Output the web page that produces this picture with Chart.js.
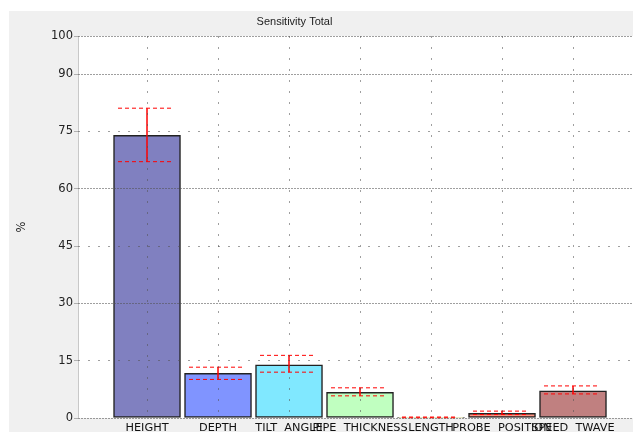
<!DOCTYPE html>
<html>
<head>
<meta charset="utf-8">
<script src="https://cdn.jsdelivr.net/npm/chart.js@4"></script>
<style>
  body { margin: 0; background: #ffffff; width: 633px; height: 432px; overflow: hidden; }
  #box { position: absolute; left: 9px; top: 11px; width: 624px; height: 421px; background: #f0f0f0; }
</style>
</head>
<body>
<div id="box"><canvas id="myChart"></canvas></div>
<script>
// chart data
var categories = ["HEIGHT", "DEPTH", "TILT  ANGLE", "PIPE  THICKNESS", "LENGTH", "PROBE  POSITION", "SPEED  TWAVE"];
var sensitivity = [74, 11.7, 13.9, 6.7, 0.15, 1.2, 7.1];
var errLow = [67.1, 10.1, 12.0, 5.8, 0.05, 0.9, 6.3];
var errHigh = [81.1, 13.3, 16.4, 7.9, 0.25, 1.8, 8.4];
var yTicks = [0, 15, 30, 45, 60, 75, 90, 100];
var barColors = ["#8080c0", "#8094ff", "#80e8ff", "#c0ffc0", "#ffffa0", "#ff9482", "#c08080"];

document.addEventListener("DOMContentLoaded", function () {
  var whiteArea = {
    id: "whiteArea",
    beforeDraw: function (chart) {
      var a = chart.chartArea;
      var c = chart.ctx;
      c.save();
      c.fillStyle = "#ffffff";
      c.fillRect(a.left, a.top, a.right - a.left, a.bottom - a.top);
      // left axis line
      c.strokeStyle = "#c8c8c8";
      c.lineWidth = 1;
      c.beginPath();
      c.moveTo(a.left + 0.5, a.top);
      c.lineTo(a.left + 0.5, a.bottom);
      c.stroke();
      c.restore();
    }
  };

  // red dashed caps + solid stem
  var errorBars = {
    id: "errorBars",
    afterDatasetsDraw: function (chart) {
      var ctx = chart.ctx;
      var xs = chart.scales.x, ys = chart.scales.y;
      ctx.save();
      ctx.strokeStyle = "#ff0000";
      for (var i = 0; i < categories.length; i++) {
        var cx = xs.getPixelForValue(i);
        var lo = ys.getPixelForValue(errLow[i]);
        var hi = ys.getPixelForValue(errHigh[i]);
        ctx.lineWidth = 1.5;
        ctx.setLineDash([]);
        ctx.beginPath();
        ctx.moveTo(cx, lo);
        ctx.lineTo(cx, hi);
        ctx.stroke();
        ctx.lineWidth = 1;
        ctx.setLineDash([4, 3]);
        ctx.beginPath();
        ctx.moveTo(cx - 29, hi); ctx.lineTo(cx + 27, hi);
        ctx.moveTo(cx - 29, lo); ctx.lineTo(cx + 27, lo);
        ctx.stroke();
      }
      ctx.restore();
    }
  };

  var titleText = {
    id: "titleText",
    afterDraw: function (chart) {
      var ctx = chart.ctx;
      ctx.save();
      ctx.fillStyle = "#222";
      ctx.font = "11px 'Liberation Sans', sans-serif";
      ctx.textAlign = "center";
      ctx.textBaseline = "middle";
      ctx.fillText("Sensitivity Total", 285.5, 11);
      ctx.restore();
    }
  };

  var ctx = document.getElementById("myChart").getContext("2d");
  var myChart = new Chart(ctx, {
    type: "bar",
    data: {
      datasets: [{
        label: "Sensitivity",
        data: sensitivity.map(function (v, i) { return { x: i, y: v }; }),
        backgroundColor: barColors,
        borderColor: "#222222",
        borderWidth: 1.5,
        borderSkipped: false,
        barThickness: 67
      }]
    },
    plugins: [whiteArea, errorBars, titleText],
    options: {
      responsive: true,
      maintainAspectRatio: false,
      animation: false,
      layout: { padding: { top: 25, left: 0, right: 0, bottom: 0 } },
      plugins: { legend: { display: false }, tooltip: { enabled: false } },
      scales: {
        x: {
          type: "linear",
          offset: false,
          min: -0.972,
          max: 6.845,
          afterBuildTicks: function (axis) {
            axis.ticks = categories.map(function (c, i) { return { value: i }; });
          },
          afterFit: function (axis) { axis.height = 14; },
          grid: { z: 1, offset: false, color: "rgba(80,80,80,0.55)", drawTicks: false },
          border: { display: false, dash: [2, 9] },
          ticks: {
            autoSkip: false,
            maxRotation: 0,
            padding: 3,
            color: "#111",
            font: { family: "'DejaVu Sans', sans-serif", size: 11.3 },
            callback: function (v) { return categories[v]; }
          }
        },
        y: {
          min: 0,
          max: 100,
          afterBuildTicks: function (axis) {
            axis.ticks = yTicks.map(function (v) { return { value: v }; });
          },
          afterFit: function (axis) { axis.width = 69; },
          grid: { z: 1, color: "rgba(80,80,80,0.55)", drawTicks: true, tickLength: 4, tickColor: "#b0b0b0", tickBorderDash: [] },
          border: {
            display: false,
            dash: function (c) {
              if (!c.tick) return [];
              return (c.tick.value % 30 === 0 || c.tick.value === 100) ? [2, 1] : [2, 8];
            }
          },
          title: { display: true, text: "%", color: "#222", padding: { top: 6 }, font: { family: "'DejaVu Sans', sans-serif", size: 11.5 } },
          ticks: {
            padding: 1,
            color: "#222",
            font: { family: "'DejaVu Sans', sans-serif", size: 11.5 }
          }
        }
      }
    }
  });
});
</script>
</body>
</html>
